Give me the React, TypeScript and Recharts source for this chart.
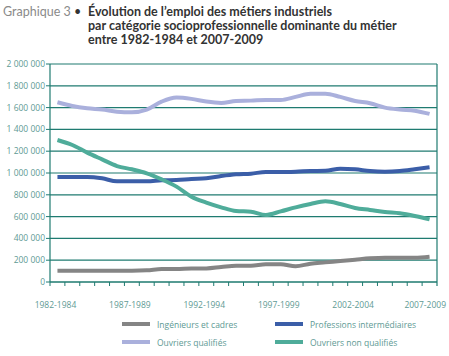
import React from "react";
import { LineChart, Line, XAxis, YAxis, CartesianGrid, Legend } from "recharts";

const periods = [
  "1982-1984", "1983-1985", "1984-1986", "1985-1987", "1986-1988",
  "1987-1989", "1988-1990", "1989-1991", "1990-1992", "1991-1993",
  "1992-1994", "1993-1995", "1994-1996", "1995-1997", "1996-1998",
  "1997-1999", "1998-2000", "1999-2001", "2000-2002", "2001-2003",
  "2002-2004", "2003-2005", "2004-2006", "2005-2007", "2006-2008",
  "2007-2009",
];

const ingenieurs = [
  104000, 104000, 104000, 104000, 104000, 104000, 107000, 119000, 119000, 125000,
  125000, 138000, 150000, 150000, 162000, 162000, 144000, 168000, 180000, 193000,
  205000, 217000, 223000, 223000, 223000, 232000,
];

const professions = [
  963000, 963000, 963000, 951000, 924000, 924000, 924000, 933000, 936000, 945000,
  951000, 972000, 988000, 994000, 1009000, 1009000, 1012000, 1018000, 1021000, 1040000,
  1034000, 1018000, 1012000, 1018000, 1034000, 1052000,
];

const ouvriersQualifies = [
  1649000, 1615000, 1594000, 1582000, 1563000, 1557000, 1582000, 1655000, 1692000, 1680000,
  1655000, 1643000, 1661000, 1664000, 1670000, 1670000, 1698000, 1728000, 1728000, 1698000,
  1661000, 1640000, 1600000, 1582000, 1572000, 1542000,
];

const ouvriersNonQualifies = [
  1303000, 1257000, 1187000, 1125000, 1064000, 1034000, 997000, 942000, 875000, 783000,
  728000, 685000, 651000, 645000, 615000, 648000, 685000, 716000, 740000, 716000,
  679000, 661000, 642000, 630000, 606000, 575000,
];

const yTicks = [0, 200000, 400000, 600000, 800000, 1000000, 1200000, 1400000, 1600000, 1800000, 2000000];
const labelEvery = 5;

const seriesNames = {
  ing: "Ingénieurs et cadres",
  prof: "Professions intermédiaires",
  oq: "Ouvriers qualifiés",
  onq: "Ouvriers non qualifiés",
};

const colors = {
  ing: "#858585",
  prof: "#3b5ea8",
  oq: "#aab0dc",
  onq: "#4fac9a",
};

const data = periods.map((p, i) => ({
  period: p,
  ing: ingenieurs[i],
  prof: professions[i],
  oq: ouvriersQualifies[i],
  onq: ouvriersNonQualifies[i],
}));

const W = 449;
const H = 356;
const MARGIN = { top: 64, right: 11, bottom: 44, left: 0 };
const YW = 50;
const RW = 1;
const PLOT_W = W - MARGIN.left - MARGIN.right - YW - RW;
const BW = PLOT_W / periods.length;

const AXIS = "#1f7b71";
const TXT = "#5e9a94";
const FONT = "'Open Sans', sans-serif";
const FS = 8.5;

const fmt = (v: number) =>
  String(v).replace(/\B(?=(\d{3})+(?!\d))/g, "\u00A0");

const XTick = (props: any) => {
  const { x, y, payload, index } = props;
  const top = y - 6;
  const last = index === periods.length - 1;
  return (
    <g>
      <line x1={x - BW / 2} x2={x - BW / 2} y1={top} y2={top + 4} stroke={AXIS} strokeWidth={1} />
      {last && (
        <line x1={x + BW / 2} x2={x + BW / 2} y1={top} y2={top + 4} stroke={AXIS} strokeWidth={1.2} />
      )}
      {index % labelEvery === 0 && (
        last ? (
          <text x={Math.min(x + 20, W - 3)} y={y + 20} textAnchor="end" fill={TXT} fontSize={FS} fontFamily={FONT}>
            {payload.value}
          </text>
        ) : (
          <text x={x - 2} y={y + 20} textAnchor="middle" fill={TXT} fontSize={FS} fontFamily={FONT}>
            {payload.value}
          </text>
        )
      )}
    </g>
  );
};

const YTick = (props: any) => {
  const { x, y, payload } = props;
  return (
    <text x={x} y={y} dy={3} textAnchor="end" fill={TXT} fontSize={FS} fontFamily={FONT}>
      {fmt(payload.value)}
    </text>
  );
};

const legendItems = [
  { key: "ing", col: 0, row: 0 },
  { key: "prof", col: 1, row: 0 },
  { key: "oq", col: 0, row: 1 },
  { key: "onq", col: 1, row: 1 },
] as const;

const LegendContent = () => (
  <div style={{ position: "relative", width: W, height: 0 }}>
    {legendItems.map((it) => (
      <div
        key={it.key}
        style={{
          position: "absolute",
          left: it.col === 0 ? 122 : 275,
          top: it.row * 18,
          display: "flex",
          alignItems: "center",
          height: 14,
          fontFamily: FONT,
          fontSize: FS,
          color: TXT,
          whiteSpace: "nowrap",
        }}
      >
        <span
          style={{
            display: "inline-block",
            width: 28,
            height: 4,
            background: colors[it.key],
            marginRight: 7,
          }}
        />
        {seriesNames[it.key]}
      </div>
    ))}
  </div>
);

export default function App() {
  return (
    <div style={{ position: "absolute", left: 0, top: 0, width: W, height: H, background: "#fff", overflow: "hidden" }}>
      <div style={{ position: "absolute", left: 3, top: 5, fontFamily: "Lato, sans-serif", fontSize: 12.5, lineHeight: "14px", color: "#8a8a8a", whiteSpace: "nowrap" }}>
        Graphique 3 <span style={{ color: "#333" }}>•</span>
      </div>
      <div style={{ position: "absolute", left: 88, top: 5, fontFamily: "Lato, sans-serif", fontWeight: 700, fontSize: 12.5, lineHeight: "14px", color: "#333", whiteSpace: "nowrap" }}>
        Évolution de l’emploi des métiers industriels
        <br />
        par catégorie socioprofessionnelle dominante du métier
        <br />
        entre 1982-1984 et 2007-2009
      </div>
      <div style={{ position: "absolute", left: 0, top: 0 }}>
        <LineChart width={W} height={H} data={data} margin={MARGIN}>
          <CartesianGrid vertical={false} stroke={AXIS} strokeWidth={1.2} />
          <XAxis
            dataKey="period"
            scale="band"
            interval={0}
            height={30}
            tickSize={4}
            tickMargin={2}
            tickLine={false}
            axisLine={{ stroke: AXIS, strokeWidth: 1.2 }}
            tick={<XTick />}
          />
          <YAxis
            width={YW}
            domain={[0, 2000000]}
            ticks={yTicks}
            interval={0}
            tickSize={4}
            tickMargin={1}
            axisLine={{ stroke: AXIS, strokeWidth: 1.2 }}
            tickLine={{ stroke: AXIS }}
            tick={<YTick />}
          />
          <YAxis
            yAxisId="right"
            orientation="right"
            width={RW}
            domain={[0, 2000000]}
            tick={false}
            tickLine={false}
            axisLine={{ stroke: AXIS, strokeWidth: 1.2 }}
          />
          <Legend
            layout="vertical"
            align="center"
            verticalAlign="bottom"
            wrapperStyle={{ left: 0, top: 317, width: W }}
            content={<LegendContent />}
          />
          <Line dataKey="ing" name={seriesNames.ing} stroke={colors.ing} strokeWidth={4} type="monotone" dot={false} isAnimationActive={false} />
          <Line dataKey="prof" name={seriesNames.prof} stroke={colors.prof} strokeWidth={4} type="monotone" dot={false} isAnimationActive={false} />
          <Line dataKey="oq" name={seriesNames.oq} stroke={colors.oq} strokeWidth={4} type="monotone" dot={false} isAnimationActive={false} />
          <Line dataKey="onq" name={seriesNames.onq} stroke={colors.onq} strokeWidth={4} type="monotone" dot={false} isAnimationActive={false} />
        </LineChart>
      </div>
    </div>
  );
}
